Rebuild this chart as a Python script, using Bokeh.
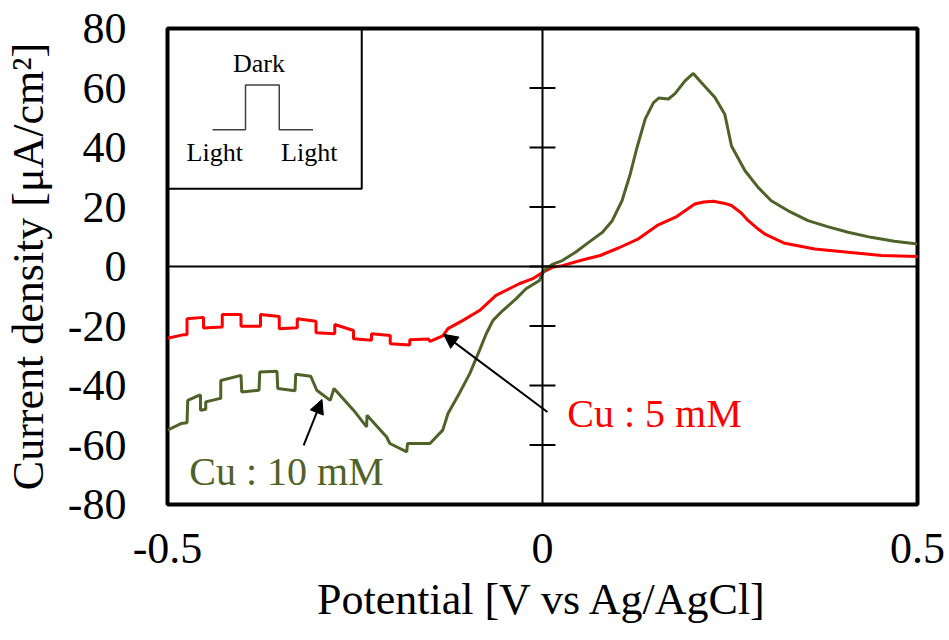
from bokeh.plotting import figure
from bokeh.models import (Span, BoxAnnotation, Label, Arrow,
                          NormalHead, FixedTicker, Range1d)
from bokeh.embed import file_html
from bokeh.resources import INLINE

# ---- data ----
potential_5mM = [-0.500, -0.478, -0.474, -0.474, -0.452, -0.452, -0.427, -0.427,
                 -0.402, -0.402, -0.376, -0.376, -0.351, -0.351, -0.327, -0.327,
                 -0.302, -0.302, -0.277, -0.277, -0.252, -0.252, -0.228, -0.228,
                 -0.203, -0.203, -0.177, -0.177, -0.152, -0.150, -0.133, -0.126,
                 -0.106, -0.084, -0.062, -0.031, -0.013, 0.000, 0.013, 0.0265,
                 0.053, 0.077, 0.102, 0.128, 0.153, 0.179, 0.203, 0.215, 0.228,
                 0.243, 0.252, 0.265, 0.274, 0.288, 0.296, 0.323, 0.363, 0.4075,
                 0.452, 0.500]
current_5mM = [-24.1, -22.9, -22.9, -17.6, -17.1, -20.7, -20.3, -16.1,
               -16.1, -20.1, -20.1, -16.1, -16.8, -20.9, -20.6, -17.6,
               -18.4, -22.3, -22.6, -19.5, -21.5, -24.3, -24.8, -22.6,
               -23.2, -26.0, -26.4, -24.6, -24.4, -25.2, -23.3, -20.9,
               -18.1, -14.8, -9.7, -5.8, -4.1, -2.0, -0.3, 0.3,
               2.2, 3.7, 6.3, 9.3, 13.8, 16.8, 21.0, 21.7, 21.9,
               21.2, 20.5, 18.0, 15.5, 12.5, 11.0, 7.8, 5.9, 4.8,
               3.7, 3.4]

potential_10mM = [-0.500, -0.482, -0.474, -0.473, -0.458, -0.456, -0.456, -0.449,
                  -0.449, -0.431, -0.429, -0.429, -0.402, -0.401, -0.378, -0.377,
                  -0.354, -0.353, -0.330, -0.329, -0.309, -0.301, -0.283, -0.278,
                  -0.252, -0.2345, -0.234, -0.2078, -0.2035, -0.181, -0.180, -0.150,
                  -0.133, -0.126, -0.111, -0.097, -0.084, -0.075, -0.066, -0.053,
                  -0.035, -0.022, -0.004, 0.002, 0.013, 0.0265, 0.044, 0.062,
                  0.080, 0.093, 0.106, 0.117, 0.126, 0.137, 0.148, 0.155,
                  0.168, 0.177, 0.190, 0.201, 0.212, 0.230, 0.243, 0.252,
                  0.270, 0.2875, 0.305, 0.327, 0.354, 0.380, 0.4075, 0.438,
                  0.469, 0.500]
current_10mM = [-55.0, -52.8, -52.5, -45.0, -43.3, -43.3, -48.3, -48.0,
                -45.5, -44.4, -44.4, -38.3, -36.6, -42.2, -41.6, -35.5,
                -35.2, -41.0, -41.8, -36.2, -36.9, -41.6, -45.0, -41.0,
                -48.3, -53.9, -50.0, -57.3, -59.5, -62.3, -59.5, -59.5,
                -55.0, -49.4, -42.7, -36.0, -28.2, -22.6, -18.1, -14.8,
                -10.8, -7.5, -4.7, -1.3, 0.7, 2.0, 4.8, 8.2,
                11.5, 15.4, 22.1, 31.1, 40.0, 49.6, 55.1, 56.6,
                56.3, 58.2, 62.4, 64.9, 61.8, 56.8, 51.2, 40.5,
                32.2, 26.6, 22.1, 18.8, 15.4, 13.4, 11.5, 9.8,
                8.5, 7.6]

x_ticks = [-0.5, 0, 0.5]
x_labels = ["-0.5", "0", "0.5"]
y_ticks = [-80, -60, -40, -20, 0, 20, 40, 60, 80]
y_labels = ["-80", "-60", "-40", "-20", "0", "20", "40", "60", "80"]

# inset schematic (light / dark / light)
inset_x = [-0.440, -0.396, -0.396, -0.351, -0.351, -0.306]
inset_y = [46.0, 46.0, 61.0, 61.0, 46.0, 46.0]
inset_box = dict(left=-0.5, right=-0.241, bottom=26.1, top=80)

# arrows: (x_start, y_start, x_end, y_end)
arrow_5mM = [0.0066, -48.9, -0.1318, -22.8]
arrow_10mM = [-0.3185, -60.1, -0.294, -44.7]

RED = "#ff0000"
GREEN = "#4f6228"
FONT = "Liberation Serif"
TICK_HALF = 0.0173  # half length of the crossing ticks on the zero line (V)

p = figure(width=949, height=640, x_range=Range1d(-0.5, 0.5),
           y_range=Range1d(-80, 80), output_backend="svg",
           toolbar_location=None, min_border_left=164, min_border_right=32,
           min_border_top=28, min_border_bottom=136)
p.grid.visible = False
p.background_fill_color = "white"
p.border_fill_color = "white"
p.outline_line_color = "black"
p.outline_line_width = 4
p.outline_line_alpha = 1.0

for ax in (p.xaxis[0], p.yaxis[0]):
    ax.axis_line_color = None
    ax.major_tick_line_color = None
    ax.minor_tick_line_color = None
    ax.major_tick_in = 0
    ax.major_tick_out = 0
    ax.major_label_text_font = FONT
    ax.major_label_text_font_size = "44px"
    ax.major_label_text_color = "black"
    ax.axis_label_text_font = FONT
    ax.axis_label_text_font_size = "44px"
    ax.axis_label_text_font_style = "normal"
    ax.axis_label_text_color = "black"

p.xaxis.ticker = FixedTicker(ticks=x_ticks)
p.xaxis.major_label_overrides = {t: s for t, s in zip(x_ticks, x_labels)}
p.xaxis.major_label_standoff = 29
p.xaxis.axis_label_standoff = 9
p.xaxis.axis_label = "Potential [V vs Ag/AgCl]"

p.yaxis.ticker = FixedTicker(ticks=y_ticks)
p.yaxis.major_label_overrides = {t: s for t, s in zip(y_ticks, y_labels)}
p.yaxis.major_label_standoff = 41
p.yaxis.axis_label_standoff = 12
p.yaxis.axis_label = "Current density [μA/cm²]"

# zero lines with crossing ticks on the vertical one
p.add_layout(Span(location=0, dimension="width", line_color="black",
                  line_width=2))
p.add_layout(Span(location=0, dimension="height", line_color="black",
                  line_width=2))
p.segment(x0=[-TICK_HALF] * len(y_ticks), y0=y_ticks,
          x1=[TICK_HALF] * len(y_ticks), y1=y_ticks,
          line_color="black", line_width=2)

# inset
p.add_layout(BoxAnnotation(fill_color=None, fill_alpha=0, line_color="black",
                           line_alpha=1.0, line_width=2, **inset_box))
p.line(inset_x, inset_y, line_color="#404040", line_width=1.5)
p.add_layout(Label(x=-0.378, y=68.3, text="Dark", text_font=FONT,
                   text_font_size="26px", text_align="center",
                   text_baseline="middle", text_color="black"))
p.add_layout(Label(x=-0.437, y=38.4, text="Light", text_font=FONT,
                   text_font_size="26px", text_align="center",
                   text_baseline="middle", text_color="black"))
p.add_layout(Label(x=-0.311, y=38.4, text="Light", text_font=FONT,
                   text_font_size="26px", text_align="center",
                   text_baseline="middle", text_color="black"))

# curves
p.line(potential_5mM, current_5mM, line_color=RED, line_width=3)
p.line(potential_10mM, current_10mM, line_color=GREEN, line_width=3)

# annotations
for a in (arrow_5mM, arrow_10mM):
    p.add_layout(Arrow(end=NormalHead(size=14, fill_color="black",
                                      line_color="black"),
                       x_start=a[0], y_start=a[1], x_end=a[2], y_end=a[3],
                       line_color="black", line_width=2))
p.add_layout(Label(x=0.033, y=-49.5, text="Cu : 5 mM", text_font=FONT,
                   text_font_size="40px", text_color=RED,
                   text_baseline="middle", text_align="left"))
p.add_layout(Label(x=-0.471, y=-68.8, text="Cu : 10 mM", text_font=FONT,
                   text_font_size="40px", text_color=GREEN,
                   text_baseline="middle", text_align="left"))

open("out.html", "w").write(file_html(p, INLINE))
